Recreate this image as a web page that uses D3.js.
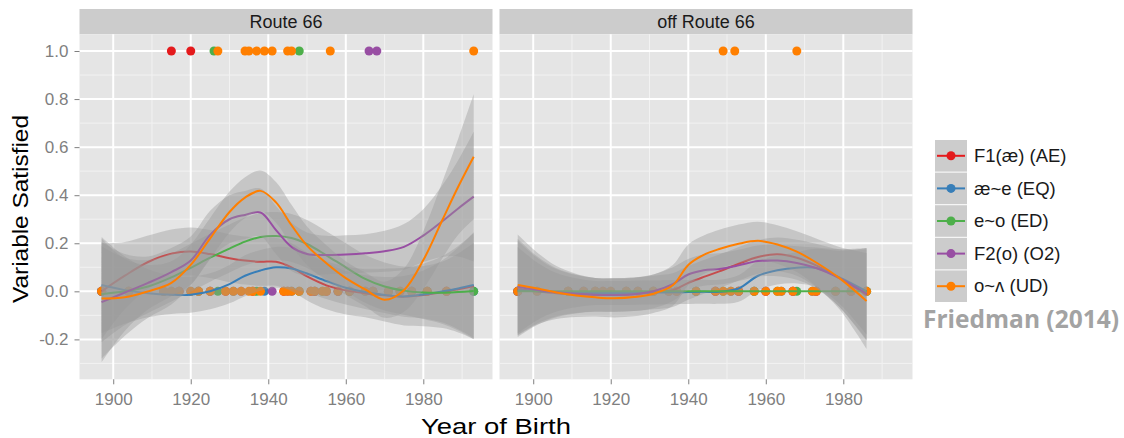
<!DOCTYPE html>
<html>
<head>
<meta charset="utf-8">
<script src="https://d3js.org/d3.v7.min.js"></script>
<style>
  body { margin: 0; background: #fff; }
  text { font-family: "Liberation Sans", Arial, sans-serif; }
</style>
</head>
<body>
<svg id="chart" width="1124" height="438"></svg>
<script>
// ---- data ----
const seriesNames = ["F1(æ) (AE)", "æ~e (EQ)", "e~o (ED)", "F2(o) (O2)", "o~ʌ (UD)"];
const seriesColors = ["#E41A1C", "#377EB8", "#4DAF4A", "#984EA3", "#FF7F00"];
const panelNames = ["Route 66", "off Route 66"];

// smoother fits, Route 66
const leftYears = [1897, 1903, 1909, 1915, 1920, 1925, 1930, 1934, 1938, 1942, 1946, 1950, 1955, 1960, 1965, 1970, 1975, 1980, 1985, 1989, 1993];
const leftAE = [0.0, 0.065, 0.122, 0.157, 0.166, 0.155, 0.138, 0.128, 0.123, 0.123, 0.10, 0.062, 0.025, 0.004, -0.008, -0.016, -0.022, -0.015, -0.003, 0.009, 0.022];
const leftEQ = [0.026, 0.005, -0.008, -0.014, -0.014, 0.0, 0.03, 0.065, 0.087, 0.1, 0.095, 0.074, 0.043, 0.015, -0.003, -0.015, -0.021, -0.013, 0.0, 0.012, 0.026];
const leftED = [-0.012, 0.0, 0.02, 0.058, 0.098, 0.14, 0.178, 0.207, 0.226, 0.23, 0.222, 0.197, 0.15, 0.10, 0.052, 0.02, 0.003, -0.005, -0.006, -0.003, 0.001];
const leftO2 = [-0.045, -0.005, 0.035, 0.08, 0.128, 0.235, 0.3, 0.318, 0.328, 0.255, 0.185, 0.155, 0.151, 0.153, 0.158, 0.167, 0.185, 0.232, 0.293, 0.345, 0.394];
const leftUD = [-0.03, -0.025, 0.0, 0.035, 0.11, 0.22, 0.33, 0.39, 0.418, 0.37, 0.275, 0.19, 0.117, 0.055, 0.008, -0.035, 0.005, 0.13, 0.30, 0.435, 0.56];
// ribbon half widths, Route 66
const leftAEse = [0.2, 0.14, 0.11, 0.1, 0.1, 0.1, 0.1, 0.1, 0.1, 0.1, 0.1, 0.1, 0.1, 0.1, 0.1, 0.11, 0.12, 0.13, 0.15, 0.18, 0.22];
const leftEQse = [0.2, 0.14, 0.1, 0.08, 0.075, 0.075, 0.08, 0.085, 0.085, 0.085, 0.085, 0.08, 0.075, 0.07, 0.07, 0.075, 0.085, 0.1, 0.13, 0.17, 0.22];
const leftEDse = [0.2, 0.14, 0.11, 0.1, 0.1, 0.1, 0.1, 0.1, 0.1, 0.1, 0.1, 0.1, 0.1, 0.1, 0.1, 0.1, 0.1, 0.11, 0.13, 0.16, 0.2];
const leftO2se = [0.25, 0.16, 0.11, 0.1, 0.1, 0.1, 0.1, 0.1, 0.1, 0.1, 0.1, 0.09, 0.08, 0.08, 0.08, 0.085, 0.095, 0.11, 0.15, 0.2, 0.27];
const leftUDse = [0.25, 0.16, 0.11, 0.09, 0.085, 0.085, 0.085, 0.085, 0.085, 0.085, 0.085, 0.08, 0.075, 0.07, 0.07, 0.075, 0.09, 0.12, 0.16, 0.2, 0.26];

// smoother fits, off Route 66
const rightYears = [1896, 1901, 1906, 1911, 1916, 1921, 1926, 1931, 1936, 1940, 1944, 1948, 1953, 1958, 1963, 1968, 1973, 1979, 1986];
const rightAE = [0.01, 0.0, -0.008, -0.012, -0.015, -0.015, -0.012, -0.005, 0.005, 0.035, 0.06, 0.083, 0.115, 0.143, 0.154, 0.14, 0.108, 0.055, -0.015];
const rightEQ = [0.005, 0.0, -0.004, -0.006, -0.007, -0.007, -0.006, -0.005, -0.004, -0.003, -0.002, -0.002, 0.012, 0.065, 0.088, 0.098, 0.097, 0.058, 0.0];
const rightED = [0, 0, 0, 0, 0, 0, 0, 0, 0, 0, 0, 0, 0, 0, 0, 0, 0, 0, 0];
const rightO2 = [0.019, 0.006, -0.004, -0.01, -0.014, -0.015, -0.012, 0.0, 0.03, 0.07, 0.088, 0.093, 0.108, 0.126, 0.128, 0.118, 0.097, 0.055, -0.01];
const rightUD = [0.026, 0.012, -0.005, -0.017, -0.025, -0.029, -0.024, -0.01, 0.025, 0.11, 0.152, 0.176, 0.198, 0.21, 0.195, 0.165, 0.12, 0.055, -0.04];
const rightAEse = [0.2, 0.14, 0.1, 0.08, 0.07, 0.07, 0.07, 0.07, 0.07, 0.07, 0.07, 0.07, 0.07, 0.07, 0.07, 0.075, 0.09, 0.12, 0.19];
const rightEQse = [0.18, 0.12, 0.08, 0.06, 0.05, 0.05, 0.05, 0.05, 0.05, 0.05, 0.05, 0.05, 0.055, 0.06, 0.06, 0.065, 0.08, 0.11, 0.18];
const rightEDse = [0, 0, 0, 0, 0, 0, 0, 0, 0, 0, 0, 0, 0, 0, 0, 0, 0, 0, 0];
const rightO2se = [0.2, 0.14, 0.1, 0.08, 0.07, 0.07, 0.07, 0.07, 0.07, 0.065, 0.065, 0.065, 0.065, 0.065, 0.065, 0.07, 0.085, 0.12, 0.19];
const rightUDse = [0.21, 0.15, 0.11, 0.09, 0.08, 0.08, 0.08, 0.08, 0.085, 0.085, 0.08, 0.08, 0.08, 0.08, 0.08, 0.085, 0.1, 0.13, 0.2];

// speakers (birth years) scoring 1 and 0
const leftOnes = [[1915, 1920], [], [1926, 1948], [1966, 1968],
  [1927, 1934, 1935, 1937, 1939, 1941, 1945, 1946, 1956, 1993]];
const leftZeros = [
  [1897, 1904, 1913, 1917, 1922, 1929, 1936, 1944, 1951, 1955, 1961, 1967, 1974, 1981, 1986],
  [1897, 1915, 1920, 1925, 1931, 1939, 1946, 1952, 1958, 1965, 1971, 1977, 1993],
  [1897, 1904, 1913, 1922, 1927, 1937, 1948, 1954, 1961, 1971, 1981, 1993],
  [1897, 1917, 1925, 1933, 1941, 1945, 1952, 1958, 1967, 1977, 1986],
  [1897, 1904, 1913, 1915, 1917, 1920, 1922, 1925, 1929, 1931, 1933, 1935, 1936, 1938, 1944, 1945, 1946, 1948, 1951, 1952, 1954, 1955, 1958, 1961, 1965, 1967, 1971, 1974, 1977, 1981, 1986]];
const rightOnes = [[], [], [], [], [1949, 1952, 1968]];
const rightZeros = [
  [1896, 1909, 1916, 1924, 1931, 1937, 1947, 1953, 1960, 1967, 1973, 1982],
  [1896, 1901, 1913, 1920, 1927, 1935, 1942, 1951, 1957, 1964, 1972, 1978, 1986],
  [1896, 1909, 1916, 1924, 1931, 1942, 1949, 1957, 1963, 1968, 1978, 1986],
  [1896, 1913, 1918, 1927, 1935, 1947, 1953, 1960, 1967, 1973, 1982],
  [1896, 1901, 1909, 1913, 1916, 1918, 1920, 1924, 1927, 1931, 1935, 1937, 1942, 1947, 1949, 1951, 1953, 1957, 1960, 1963, 1964, 1967, 1972, 1973, 1978, 1982, 1986]];

const xTicks = [1900, 1920, 1940, 1960, 1980];
const xMinor = [1910, 1930, 1950, 1970, 1990];
const yTicks = [-0.2, 0, 0.2, 0.4, 0.6, 0.8, 1.0];
const yMinor = [-0.3, -0.1, 0.1, 0.3, 0.5, 0.7, 0.9];

// ---- build ----
const panels = [
  { name: panelNames[0], x0: 79.5, years: leftYears,
    fits: [leftAE, leftEQ, leftED, leftO2, leftUD],
    ses: [leftAEse, leftEQse, leftEDse, leftO2se, leftUDse],
    ones: leftOnes, zeros: leftZeros },
  { name: panelNames[1], x0: 499.5, years: rightYears,
    fits: [rightAE, rightEQ, rightED, rightO2, rightUD],
    ses: [rightAEse, rightEQse, rightEDse, rightO2se, rightUDse],
    ones: rightOnes, zeros: rightZeros }
];

const svg = d3.select("#chart");
const panelW = 413, panelTop = 34.3, panelBottom = 379.3, stripTop = 9;
const y = d3.scaleLinear().domain([-0.366, 1.0695]).range([panelBottom, panelTop]);

panels.forEach(function (p, pi) {
  const x = d3.scaleLinear().domain([1891.3, 1997.85]).range([p.x0, p.x0 + panelW]);
  const g = svg.append("g");

  g.append("clipPath").attr("id", "clip" + pi)
    .append("rect").attr("x", p.x0).attr("y", panelTop).attr("width", panelW).attr("height", panelBottom - panelTop);

  // strip
  g.append("rect").attr("x", p.x0).attr("y", stripTop).attr("width", panelW).attr("height", panelTop - stripTop)
    .attr("fill", "#CCCCCC");
  g.append("text").attr("x", p.x0 + panelW / 2).attr("y", (stripTop + panelTop) / 2 + 6)
    .attr("text-anchor", "middle").attr("font-size", 18).attr("fill", "#1a1a1a").text(p.name);

  // panel background + grid
  g.append("rect").attr("x", p.x0).attr("y", panelTop).attr("width", panelW).attr("height", panelBottom - panelTop)
    .attr("fill", "#E5E5E5");
  g.selectAll(".xmin").data(xMinor).enter().append("line")
    .attr("x1", d => x(d)).attr("x2", d => x(d)).attr("y1", panelTop).attr("y2", panelBottom)
    .attr("stroke", "#F2F2F2").attr("stroke-width", 1);
  g.selectAll(".ymin").data(yMinor).enter().append("line")
    .attr("x1", p.x0).attr("x2", p.x0 + panelW).attr("y1", d => y(d)).attr("y2", d => y(d))
    .attr("stroke", "#F2F2F2").attr("stroke-width", 1);
  g.selectAll(".xmaj").data(xTicks).enter().append("line")
    .attr("x1", d => x(d)).attr("x2", d => x(d)).attr("y1", panelTop).attr("y2", panelBottom)
    .attr("stroke", "#fff").attr("stroke-width", 2);
  g.selectAll(".ymaj").data(yTicks).enter().append("line")
    .attr("x1", p.x0).attr("x2", p.x0 + panelW).attr("y1", d => y(d)).attr("y2", d => y(d))
    .attr("stroke", "#fff").attr("stroke-width", 2);

  const inner = g.append("g").attr("clip-path", "url(#clip" + pi + ")");

  // points first
  seriesColors.forEach(function (c, si) {
    const pts = p.zeros[si].map(v => [v, 0]).concat(p.ones[si].map(v => [v, 1]));
    inner.selectAll(null).data(pts).enter().append("circle")
      .attr("cx", d => x(d[0])).attr("cy", d => y(d[1])).attr("r", 4.5).attr("fill", c);
  });

  // smoothers: ribbon then line for each series
  const rows = p.years.map((yr, i) => i);
  seriesColors.forEach(function (c, si) {
    const fit = p.fits[si], se = p.ses[si];
    const area = d3.area().curve(d3.curveCatmullRom.alpha(0.5))
      .x(i => x(p.years[i])).y0(i => y(fit[i] - se[i])).y1(i => y(fit[i] + se[i]));
    inner.append("path").datum(rows).attr("d", area)
      .attr("fill", "#999999").attr("fill-opacity", 0.4);
    const line = d3.line().curve(d3.curveCatmullRom.alpha(0.5))
      .x(i => x(p.years[i])).y(i => y(fit[i]));
    inner.append("path").datum(rows).attr("d", line)
      .attr("fill", "none").attr("stroke", c).attr("stroke-width", 2);
  });

  // x axis
  const xa = g.append("g").attr("transform", "translate(0," + panelBottom + ")")
    .call(d3.axisBottom(x).tickValues(xTicks).tickSize(5).tickPadding(9).tickFormat(d3.format("d")));
  xa.select(".domain").remove();
  xa.selectAll("line").attr("stroke", "#7F7F7F");
  xa.selectAll("text").attr("font-size", 17).attr("fill", "#7F7F7F");

  if (pi === 0) {
    const ya = g.append("g").attr("transform", "translate(" + p.x0 + ",0)")
      .call(d3.axisLeft(y).tickValues(yTicks).tickSize(5).tickPadding(6).tickFormat(d => d.toFixed(1)));
    ya.select(".domain").remove();
    ya.selectAll("line").attr("stroke", "#7F7F7F");
    ya.selectAll("text").attr("font-size", 17).attr("fill", "#7F7F7F");
  }
});

// axis titles
svg.append("text").attr("x", 496).attr("y", 434).attr("text-anchor", "middle")
  .attr("font-size", 22).attr("textLength", 150).attr("lengthAdjust", "spacingAndGlyphs")
  .text("Year of Birth");
svg.append("text").attr("transform", "translate(28,209) rotate(-90)").attr("text-anchor", "middle")
  .attr("font-size", 22).attr("textLength", 188).attr("lengthAdjust", "spacingAndGlyphs")
  .text("Variable Satisfied");

// legend
const leg = svg.append("g").attr("transform", "translate(935,140)");
seriesNames.forEach(function (n, i) {
  const gy = i * 32.6;
  leg.append("rect").attr("x", 0).attr("y", gy).attr("width", 32).attr("height", 31.6).attr("fill", "#CCCCCC");
  leg.append("line").attr("x1", 2).attr("x2", 30).attr("y1", gy + 15.8).attr("y2", gy + 15.8)
    .attr("stroke", seriesColors[i]).attr("stroke-width", 2);
  leg.append("circle").attr("cx", 16).attr("cy", gy + 15.8).attr("r", 4.5).attr("fill", seriesColors[i]);
  leg.append("text").attr("x", 39).attr("y", gy + 22).attr("font-size", 18.5).attr("fill", "#1a1a1a").text(n);
});

svg.append("text").attr("x", 923).attr("y", 328)
  .style("font-family", "'Open Sans', sans-serif").style("font-weight", "bold")
  .attr("font-size", 24.5).attr("fill", "#A3A3A3").text("Friedman (2014)");
</script>
</body>
</html>
